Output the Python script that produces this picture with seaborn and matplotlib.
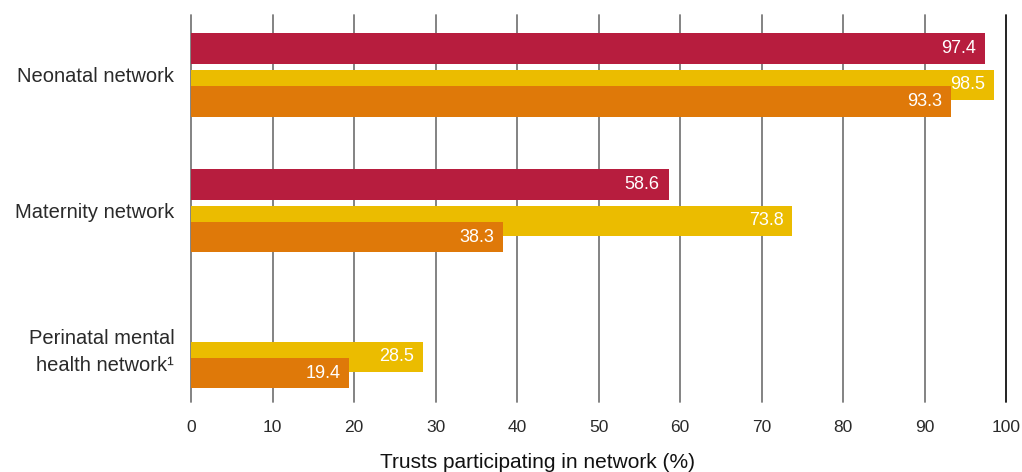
import numpy as np
import pandas as pd
import matplotlib
matplotlib.use("Agg")
import matplotlib.pyplot as plt
import seaborn as sns

# Share of trusts taking part in each network, three series per network
categories = ["Neonatal network", "Maternity network", "Perinatal mental\nhealth network\u00b9"]
crimson_values = [97.4, 58.6, np.nan]
amber_values = [98.5, 73.8, 28.5]
orange_values = [93.3, 38.3, 19.4]
x_ticks = [0, 10, 20, 30, 40, 50, 60, 70, 80, 90, 100]
x_label = "Trusts participating in network (%)"

series = [
    ("crimson", crimson_values, "#B71D3E", -0.190),
    ("amber", amber_values, "#EBBC00", 0.078),
    ("orange", orange_values, "#DF7909", 0.198),
]
bar_height = 0.225

sns.set_style("white")
plt.rcParams["font.family"] = ["Liberation Sans", "DejaVu Sans"]

fig = plt.figure(figsize=(10.22, 4.72), dpi=100)
ax = fig.add_axes([191 / 1022, 1 - 402 / 472, (1006 - 191) / 1022, (402 - 15) / 472])

for name, values, color, offset in series:
    df = pd.DataFrame({
        "pos": np.arange(len(categories)) + offset,
        "value": values,
    }).dropna()
    sns.barplot(data=df, x="value", y="pos", orient="h", native_scale=True,
                color=color, width=bar_height, errorbar=None, saturation=1,
                linewidth=0, ax=ax, zorder=3)
    for pos, val in zip(df["pos"], df["value"]):
        ax.text(val - 1.1, pos, f"{val:.1f}", ha="right", va="center",
                color="white", fontsize=13, zorder=5)

ax.set_xlim(0, 100)
ax.set_ylim(2.41, -0.436)
ax.set_xticks(x_ticks)
ax.set_xticklabels([str(t) for t in x_ticks], fontsize=12.5, color="#2a2a2a")
ax.set_yticks(range(len(categories)))
ax.set_yticklabels(categories, fontsize=14.5, color="#2a2a2a")
for lbl in ax.get_yticklabels():
    lbl.set_linespacing(1.5)
ax.tick_params(axis="both", length=0)
ax.tick_params(axis="x", pad=13)
ax.tick_params(axis="y", pad=12)
ax.set_xlabel("")
ax.set_ylabel("")

ax.set_axisbelow(True)
ax.xaxis.grid(True, color="#7a7a7a", linewidth=1.3)
ax.yaxis.grid(False)
gl = ax.get_xgridlines()
for line in gl:
    line.set_clip_on(False)
gl[-1].set_color("#111111")
for s in ax.spines.values():
    s.set_visible(False)

fig.text(537 / 1022, 1 - 463 / 472, x_label, ha="center", va="center",
         fontsize=15, color="#111111")

fig.savefig("out.png", dpi=100)
